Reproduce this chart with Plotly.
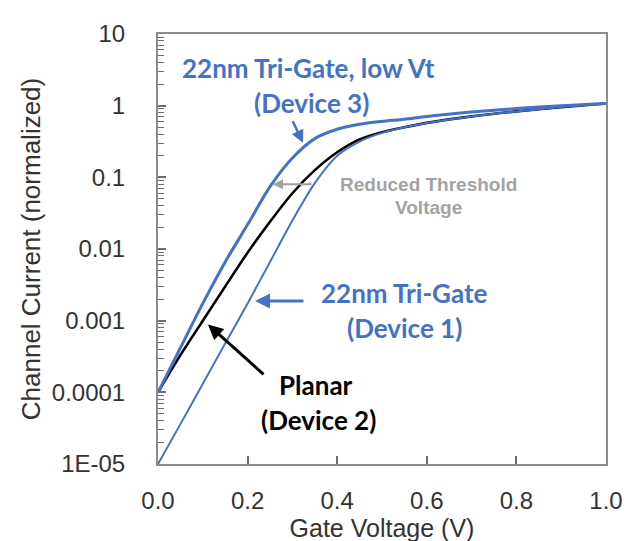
import plotly.graph_objects as go

# Gate voltage samples (V)
gate_voltage = [0.0, 0.05, 0.1, 0.15, 0.2, 0.25, 0.3, 0.35, 0.4, 0.45, 0.5, 0.55, 0.6, 0.7, 0.8, 0.9, 1.0]

# Normalized channel current
planar_device2 = [1.0e-4, 3.3e-4, 1.0e-3, 3.0e-3, 8.9e-3, 2.4e-2, 6.0e-2, 0.126, 0.224, 0.339, 0.427, 0.50, 0.575, 0.708, 0.832, 0.955, 1.07]
trigate_device1 = [1.0e-5, 3.6e-5, 1.32e-4, 4.8e-4, 1.74e-3, 6.6e-3, 2.5e-2, 8.3e-2, 0.20, 0.316, 0.417, 0.50, 0.575, 0.708, 0.832, 0.955, 1.07]
trigate_lowvt_device3 = [1.0e-4, 4.17e-4, 1.74e-3, 6.61e-3, 2.19e-2, 7.41e-2, 0.186, 0.347, 0.468, 0.55, 0.603, 0.646, 0.708, 0.813, 0.912, 1.0, 1.07]

y_tick_vals = [1e-5, 1e-4, 1e-3, 1e-2, 1e-1, 1, 10]
y_tick_text = ["1E-05", "0.0001", "0.001", "0.01", "0.1", "1", "10"]
x_tick_vals = [0.0, 0.2, 0.4, 0.6, 0.8, 1.0]
x_tick_text = ["0.0", "0.2", "0.4", "0.6", "0.8", "1.0"]
# minor log ticks (2..9 within each decade)
y_minor_vals = [k * d for d in y_tick_vals[:-1] for k in range(2, 10)]

BLUE = "#4472C4"
GRAY_AXIS = "#8c8c8c"
TICK = "#6e6e6e"

fig = go.Figure()
fig.add_trace(go.Scatter(x=gate_voltage, y=planar_device2, mode="lines",
                         line=dict(color="black", width=2.6, shape="spline", smoothing=0.8),
                         name="Planar (Device 2)"))
fig.add_trace(go.Scatter(x=gate_voltage, y=trigate_device1, mode="lines",
                         line=dict(color=BLUE, width=2.0, shape="spline", smoothing=0.8),
                         name="22nm Tri-Gate (Device 1)"))
fig.add_trace(go.Scatter(x=gate_voltage, y=trigate_lowvt_device3, mode="lines",
                         line=dict(color=BLUE, width=3.0, shape="spline", smoothing=0.8),
                         name="22nm Tri-Gate, low Vt (Device 3)"))

L, R, T, B = 150, 598, 23, 458
def px(x):
    return (x - L) / (R - L)
def py(y):
    return (B - y) / (B - T)

annotations = []
def label(text, x, y, color, size, family, bold=True):
    annotations.append(dict(text=f"<b>{text}</b>" if bold else text, x=px(x), y=py(y),
                            xref="paper", yref="paper", showarrow=False,
                            xanchor="center", yanchor="middle",
                            font=dict(color=color, size=size, family=family)))

def arrow(x0, y0, x1, y1, color, width):
    # tail (x0,y0) -> head (x1,y1), in pixels
    annotations.append(dict(text="", x=px(x1), y=py(y1), xref="paper", yref="paper",
                            ax=x0 - x1, ay=y0 - y1, axref="pixel", ayref="pixel",
                            showarrow=True, arrowhead=2, arrowsize=1.0,
                            arrowwidth=width, arrowcolor=color))

CAL = "Lato, Carlito, Calibri, sans-serif"
ARI = "Liberation Sans, Arial, sans-serif"
label("22nm Tri-Gate, low Vt", 300, 57, BLUE, 26, CAL)
label("(Device 3)", 303, 93, BLUE, 26, CAL)
label("22nm Tri-Gate", 396, 285, BLUE, 26, CAL)
label("(Device 1)", 396, 320, BLUE, 26, CAL)
label("Planar", 308, 378, "black", 26, CAL)
label("(Device 2)", 310, 413, "black", 26, CAL)
label("Reduced Threshold", 420, 175, "#a3a3a3", 19, ARI)
label("Voltage", 420, 199, "#a3a3a3", 19, ARI)

arrow(284, 110, 295, 133, BLUE, 2.5)
arrow(305, 175, 265, 175, "#a0a0a0", 2.0)
arrow(297, 293, 247, 293, BLUE, 3.0)
arrow(257, 368, 200, 317, "black", 3.0)

fig.update_layout(
    width=630, height=541,
    margin=dict(l=L, r=630 - R, t=T, b=541 - B),
    paper_bgcolor="white", plot_bgcolor="white",
    showlegend=False,
    annotations=annotations,
    font=dict(family=ARI, color="#333333"),
)
fig.update_xaxes(
    range=[0, 1], tickvals=x_tick_vals, ticktext=x_tick_text,
    ticks="inside", ticklen=8, tickwidth=2, tickcolor=TICK,
    showline=True, linecolor=GRAY_AXIS, linewidth=2, mirror=True,
    showgrid=False, zeroline=False,
    tickfont=dict(size=24, family=ARI, color="#333333"),
    ticklabelstandoff=14,
    title=dict(text="Gate Voltage (V)", font=dict(size=25, family=ARI, color="#333333"), standoff=6),
)
fig.update_yaxes(
    type="log", range=[-5, 1], tickvals=y_tick_vals, ticktext=y_tick_text,
    ticks="inside", ticklen=8, tickwidth=2, tickcolor=TICK,
    minor=dict(tickmode="array", tickvals=y_minor_vals, ticks="inside", ticklen=6,
               tickwidth=1.2, tickcolor=TICK, showgrid=False),
    showline=True, linecolor=GRAY_AXIS, linewidth=2, mirror=True,
    showgrid=False, zeroline=False,
    tickfont=dict(size=24, family=ARI, color="#333333"),
    ticklabelstandoff=26,
    title=dict(text="Channel Current (normalized)", font=dict(size=26, family=ARI, color="#333333"), standoff=4),
)

fig.write_html("out.html")
